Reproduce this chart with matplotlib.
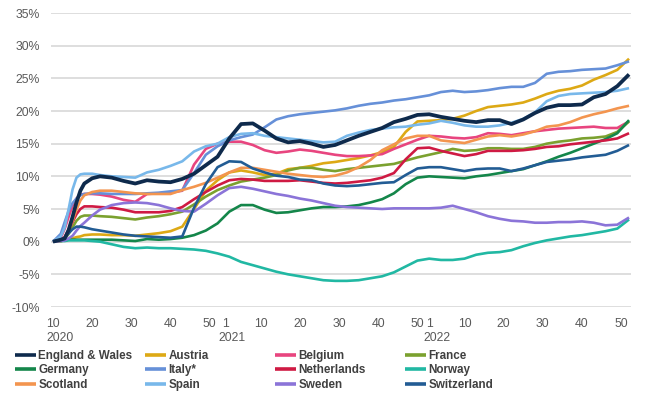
import matplotlib
matplotlib.use("Agg")
import matplotlib.pyplot as plt
import matplotlib.transforms as mtransforms

plt.rcParams['font.family'] = ['Liberation Sans', 'DejaVu Sans']

# week index: 0 = 2020 week 10 ; 44 = 2021 week 1 ; 96 = 2022 week 1 ; 147 = 2022 week 52
week_idx = [0, 2, 3, 4, 5, 6, 7, 8, 10, 12,
            15, 18, 21, 24, 27, 30, 33, 36, 39, 42,
            45, 48, 51, 54, 57, 60, 63, 66, 69, 72,
            75, 78, 81, 84, 87, 90, 93, 96, 99, 102,
            105, 108, 111, 114, 117, 120, 123, 126, 129, 132,
            135, 138, 141, 144, 147]

england_wales = [0.0, 0.3, 0.5, 1.8, 3.8, 6.0, 7.8, 8.9, 9.7, 10.0,
                 9.8, 9.3, 8.9, 9.4, 9.2, 9.1, 9.6, 10.4, 11.7, 13.0,
                 15.8, 18.0, 18.1, 17.0, 15.8, 15.2, 15.4, 15.0, 14.5, 14.8,
                 15.5, 16.2, 16.8, 17.4, 18.3, 18.8, 19.4, 19.5, 19.1, 18.8,
                 18.5, 18.3, 18.6, 18.6, 18.0, 18.7, 19.7, 20.5, 20.9, 20.9,
                 21.0, 22.1, 22.6, 23.8, 25.6]
austria = [0.0, 0.1, 0.2, 0.3, 0.5, 0.7, 0.8, 1.0, 1.1, 1.1,
           1.0, 1.0, 0.9, 1.1, 1.3, 1.6, 2.3, 5.0, 7.8, 9.4,
           10.6, 10.9, 10.6, 10.2, 10.4, 11.1, 11.3, 11.6, 12.0, 12.2,
           12.5, 12.8, 13.2, 13.7, 14.5, 16.8, 18.4, 18.5, 18.6, 18.8,
           19.3, 20.0, 20.6, 20.8, 21.0, 21.3, 21.9, 22.6, 23.1, 23.4,
           23.9, 24.8, 25.5, 26.3, 28.0]
belgium = [0.0, 0.6, 2.0, 3.8, 5.5, 6.6, 7.2, 7.3, 7.3, 7.2,
           6.9, 6.4, 6.1, 7.3, 7.4, 7.5, 7.8, 11.8, 14.2, 15.0,
           15.3, 15.3, 14.8, 14.0, 13.6, 13.8, 14.1, 13.9, 13.6, 13.3,
           13.1, 13.1, 13.2, 13.4, 14.2, 14.9, 15.6, 16.2, 16.1, 15.9,
           15.8, 16.0, 16.6, 16.5, 16.3, 16.6, 16.9, 17.1, 17.3, 17.4,
           17.5, 17.6, 17.4, 17.4, 18.4]
france = [0.0, 0.1, 0.4, 1.2, 2.2, 3.2, 3.8, 4.0, 4.0, 3.9,
          3.8, 3.6, 3.4, 3.7, 3.9, 4.2, 4.6, 5.7, 6.9, 7.9,
          8.6, 9.2, 9.5, 9.8, 10.2, 10.9, 11.3, 11.3, 11.0, 10.8,
          11.1, 11.3, 11.5, 11.7, 11.9, 12.4, 12.9, 13.3, 13.7, 14.2,
          13.9, 14.0, 14.3, 14.3, 14.2, 14.2, 14.5, 15.0, 15.3, 15.5,
          15.8, 15.9, 16.1, 16.8, 18.4]
germany = [0.0, 0.1, 0.2, 0.3, 0.3, 0.3, 0.3, 0.3, 0.3, 0.3,
           0.3, 0.2, 0.1, 0.4, 0.3, 0.4, 0.6, 1.0, 1.7, 2.8,
           4.6, 5.6, 5.6, 4.9, 4.4, 4.5, 4.8, 5.1, 5.3, 5.3,
           5.4, 5.6, 6.0, 6.5, 7.4, 8.8, 9.8, 10.0, 9.9, 9.8,
           9.7, 10.0, 10.2, 10.5, 10.8, 11.1, 11.7, 12.3, 13.0, 13.6,
           14.3, 15.0, 15.7, 16.6, 18.6]
italy = [0.0, 1.2, 3.0, 4.7, 5.9, 6.6, 7.1, 7.3, 7.4, 7.4,
         7.3, 7.3, 7.3, 7.4, 7.5, 7.7, 7.9, 10.5, 13.3, 14.6,
         15.5, 16.0, 16.4, 17.5, 18.7, 19.2, 19.5, 19.7, 19.9, 20.1,
         20.4, 20.8, 21.1, 21.3, 21.6, 21.8, 22.1, 22.4, 22.9, 23.1,
         22.9, 23.0, 23.2, 23.5, 23.7, 23.7, 24.3, 25.7, 26.0, 26.1,
         26.3, 26.4, 26.5, 27.0, 27.6]
netherlands = [0.0, 0.2, 0.7, 1.8, 3.0, 4.2, 5.0, 5.4, 5.4, 5.3,
               5.2, 4.9, 4.5, 4.5, 4.5, 4.7, 5.3, 6.5, 7.6, 8.6,
               9.4, 9.6, 9.5, 9.3, 9.3, 9.3, 9.4, 9.2, 9.0, 8.9,
               9.0, 9.2, 9.4, 9.8, 10.5, 12.6, 14.3, 14.4, 13.9, 13.5,
               13.1, 13.4, 13.9, 13.9, 13.9, 14.0, 14.2, 14.5, 14.6, 14.9,
               15.1, 15.3, 15.5, 15.8, 16.6]
norway = [0.0, 0.1, 0.1, 0.2, 0.2, 0.2, 0.2, 0.2, 0.1, 0.0,
          -0.4, -0.8, -1.0, -0.9, -1.0, -1.0, -1.1, -1.2, -1.4, -1.8,
          -2.3, -3.1, -3.6, -4.1, -4.6, -5.0, -5.3, -5.6, -5.9, -6.0,
          -6.0, -5.9, -5.6, -5.3, -4.7, -3.8, -2.9, -2.6, -2.8, -2.8,
          -2.6, -2.0, -1.7, -1.6, -1.3, -0.7, -0.2, 0.2, 0.5, 0.8,
          1.0, 1.3, 1.6, 2.0, 3.4]
scotland = [0.0, 0.1, 0.6, 1.8, 3.2, 4.9, 6.3, 7.1, 7.6, 7.8,
            7.8, 7.6, 7.4, 7.3, 7.3, 7.3, 7.9, 8.4, 9.0, 9.8,
            10.6, 11.3, 11.3, 11.0, 10.7, 10.4, 10.2, 10.0, 9.9, 10.1,
            10.6, 11.4, 12.5, 14.0, 14.9, 15.8, 16.2, 16.2, 15.5, 15.3,
            15.1, 15.6, 16.1, 16.3, 16.1, 16.4, 16.9, 17.6, 17.8, 18.3,
            19.0, 19.5, 19.9, 20.4, 20.8]
spain = [0.0, 0.8, 2.2, 5.0, 8.0, 9.8, 10.3, 10.4, 10.4, 10.2,
         10.0, 9.9, 9.8, 10.6, 11.0, 11.6, 12.3, 13.8, 14.6, 15.0,
         16.0, 16.5, 16.6, 16.2, 16.0, 15.8, 15.6, 15.4, 15.2, 15.3,
         16.2, 16.7, 17.1, 17.3, 17.5, 17.6, 17.9, 18.1, 18.5, 18.2,
         17.8, 17.6, 17.6, 17.8, 18.2, 18.8, 19.8, 21.5, 22.3, 22.6,
         22.7, 22.8, 22.9, 23.1, 23.5]
sweden = [0.0, 0.1, 0.2, 0.5, 0.9, 1.7, 2.4, 2.9, 4.0, 4.9,
          5.6, 5.9, 6.0, 5.9, 5.6, 5.1, 4.7, 4.6, 5.8, 7.1,
          8.2, 8.4, 8.1, 7.7, 7.3, 7.0, 6.6, 6.3, 5.9, 5.5,
          5.3, 5.2, 5.1, 5.0, 5.1, 5.1, 5.1, 5.1, 5.2, 5.5,
          5.0, 4.5, 3.9, 3.5, 3.2, 3.1, 2.9, 2.9, 3.0, 3.0,
          3.1, 2.9, 2.5, 2.6, 3.7]
switzerland = [0.0, 0.3, 0.6, 1.3, 1.9, 2.3, 2.3, 2.2, 1.9, 1.7,
               1.4, 1.1, 0.9, 0.8, 0.7, 0.6, 0.8, 5.2, 8.8, 11.4,
               12.3, 12.2, 11.2, 10.6, 10.1, 9.9, 9.5, 9.4, 8.9, 8.6,
               8.5, 8.6, 8.8, 9.0, 9.1, 10.2, 11.2, 11.4, 11.4, 11.1,
               10.8, 11.1, 11.2, 11.2, 10.8, 11.2, 11.7, 12.2, 12.4, 12.6,
               12.9, 13.1, 13.3, 13.9, 14.8]

series_names = ["England & Wales", "Austria", "Belgium", "France",
                "Germany", "Italy*", "Netherlands", "Norway",
                "Scotland", "Spain", "Sweden", "Switzerland"]
series_values = [england_wales, austria, belgium, france,
                 germany, italy, netherlands, norway,
                 scotland, spain, sweden, switzerland]
series_colors = ["#0E2A4C", "#DDA915", "#E8457F", "#7BA12F",
                 "#14864A", "#6690D8", "#CF1A43", "#21B8A3",
                 "#F3954F", "#78B8EA", "#8B74D8", "#225C94"]

# x tick positions (week index) and labels
tick_idx = [0, 10, 20, 30, 40, 44, 53, 63, 73, 83, 93, 96, 105, 115, 125, 135, 145]
tick_labels = ["10", "20", "30", "40", "50", "1", "10", "20", "30", "40", "50",
               "1", "10", "20", "30", "40", "50"]
year_idx = [-1.6, 42.3, 94.6]
year_labels = ["2020", "2021", "2022"]

y_ticks = [-10, -5, 0, 5, 10, 15, 20, 25, 30, 35]

W, H = 652, 393
fig = plt.figure(figsize=(W / 100, H / 100), dpi=100)
ax = fig.add_axes([51 / W, 1 - 307 / H, 580 / W, 294 / H])

lines = []
for k, (name, vals, col) in enumerate(zip(series_names, series_values, series_colors)):
    lw = 2.7 if k == 0 else 1.9
    z = 10 if k == 0 else 3
    ln, = ax.plot(week_idx, vals, color=col, lw=lw, label=name, zorder=z,
                  solid_joinstyle='round', solid_capstyle='butt')
    lines.append(ln)

ax.set_xlim(-0.5, 147.5)
ax.set_ylim(-10, 35)
ax.set_yticks(y_ticks)
ax.set_yticklabels([f"{v}%" for v in y_ticks])
ax.set_xticks(tick_idx)
ax.set_xticklabels(tick_labels)
ax.grid(axis='y', color='#D4D4D4', lw=1.1)
ax.set_axisbelow(True)
for s in ax.spines.values():
    s.set_visible(False)
ax.tick_params(axis='both', length=0, labelsize=8.8, colors='#595959')
ax.tick_params(axis='y', pad=8)
ax.tick_params(axis='x', pad=8)

trans = mtransforms.blended_transform_factory(ax.transData, ax.transAxes)
for xi, lab in zip(year_idx, year_labels):
    ax.text(xi, -0.107, lab, transform=trans, ha='left', va='center',
            fontsize=8.8, color='#595959')

# legend: 4 columns x 3 rows
col_x = [15, 145, 275, 405]
for c in range(4):
    hs = [lines[r * 4 + c] for r in range(3)]
    ls = [series_names[r * 4 + c] for r in range(3)]
    leg = fig.legend(hs, ls, loc='upper left',
                     bbox_to_anchor=(col_x[c] / W, 1 - 350 / H),
                     frameon=False, borderpad=0, borderaxespad=0,
                     handlelength=1.8, handletextpad=0.2, labelspacing=0.2,
                     prop={'size': 8.4, 'weight': 'bold'})
    for t in leg.get_texts():
        t.set_color('#404040')
    for lh in leg.get_lines():
        lh.set_linewidth(2.6)

fig.savefig("out.png", dpi=100)
